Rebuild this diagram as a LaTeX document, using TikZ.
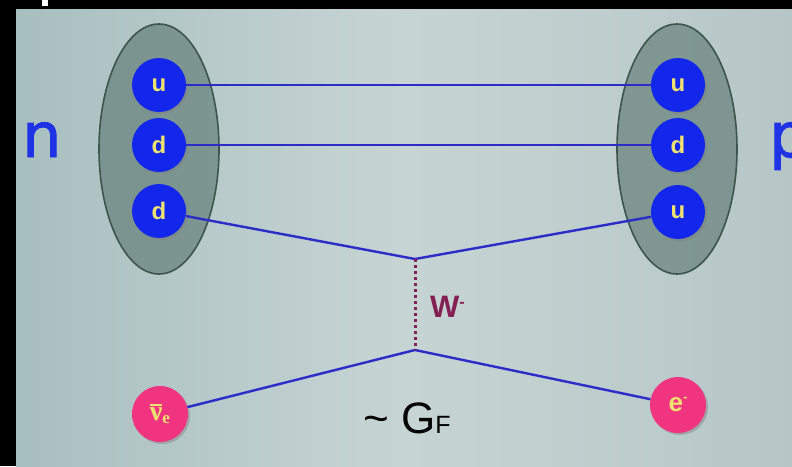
\documentclass[tikz,border=0pt]{standalone}
\usepackage{fontspec}
\setmainfont{Liberation Sans}
\newfontfamily\nuserif{Liberation Serif}
\newfontfamily\nucfont[FakeBold=1.3]{DejaVu Sans}
\usetikzlibrary{shadows}
\definecolor{bgleft}{RGB}{168,191,191}
\definecolor{bgmid}{RGB}{199,212,212}
\definecolor{bgright}{RGB}{182,198,198}
\definecolor{bagfill}{RGB}{104,130,124}
\definecolor{bagline}{RGB}{60,86,78}
\definecolor{quarkblue}{RGB}{18,38,236}
\definecolor{leptonpink}{RGB}{240,52,128}
\definecolor{labelyellow}{RGB}{238,226,112}
\definecolor{lineblue}{RGB}{44,44,200}
\definecolor{wpurple}{RGB}{132,32,84}
\definecolor{nucblue}{RGB}{30,50,230}
\begin{document}
\begin{tikzpicture}[x=1pt,y=-1pt,
  quark/.style={circle,fill=quarkblue,minimum size=54pt,inner sep=0pt,text=labelyellow,
    font=\fontsize{24}{24}\selectfont\bfseries,
    drop shadow={opacity=0.45,shadow xshift=2pt,shadow yshift=-2pt}},
  lepton/.style={quark,fill=leptonpink,minimum size=56pt},
  bag/.style={fill=bagfill,fill opacity=0.72,draw=bagline,line width=1.6pt},
  fermion/.style={lineblue,line width=2.4pt},
  wboson/.style={wpurple,line width=3pt,dash pattern=on 3pt off 3pt},
  big/.style={font=\nucfont\fontsize{62}{62}\selectfont,text=nucblue,inner sep=0pt,anchor=base west}]
% frame and background
\fill[black] (0,0) rectangle (792,466);
\shade[left color=bgleft,right color=bgright,middle color=bgmid] (16,9) rectangle (792,466);
\fill[white] (42,0) rectangle (48,6);
\useasboundingbox (0,0) rectangle (792,466);
% nucleon bags
\draw[bag] (159,149) ellipse [x radius=60pt,y radius=125pt];
\draw[bag] (677,149) ellipse [x radius=60pt,y radius=125pt];
\node[big] (nlab) at (22,157) {n};
\node[big] (plab) at (769,157) {p};
% quarks
\node[quark] (nu) at (159,85) {u};
\node[quark] (nd) at (159,145) {d};
\node[quark] (ndd) at (159,211) {d};
\node[quark] (pu) at (678,85) {u};
\node[quark] (pd) at (678,145) {d};
\node[quark] (puu) at (678,212) {u};
% leptons
\node[lepton] (nubar) at (160,414) {{\nuserif\bfseries\fontsize{28}{28}\selectfont\vbox{\hrule height 1.8pt\kern 2pt\hbox{ν}}\raisebox{-3pt}{\fontsize{17}{17}\selectfont e}}};
\node[lepton] (elec) at (678,405) {\fontsize{26}{26}\selectfont e\raisebox{10pt}{\fontsize{13}{13}\selectfont -}};
% vertices
\coordinate (wtop) at (415,259);
\coordinate (wbot) at (415,350);
\draw[fermion] (nu) -- (pu);
\draw[fermion] (nd) -- (pd);
\draw[fermion] (ndd) -- (wtop) -- (puu);
\draw[fermion] (nubar) -- (wbot) -- (elec);
\draw[wboson] (wtop) -- (wbot);
\node[anchor=base west,inner sep=0pt,text=wpurple,font=\fontsize{31}{31}\selectfont\bfseries] (wlab) at (430,317) {W\raisebox{10pt}{\fontsize{16}{16}\selectfont -}};
\node[anchor=base west,inner sep=0pt,font=\fontsize{44}{44}\selectfont] (gf) at (363,433) {\textasciitilde{} G{\fontsize{25}{25}\selectfont F}};
\end{tikzpicture}
\end{document}
